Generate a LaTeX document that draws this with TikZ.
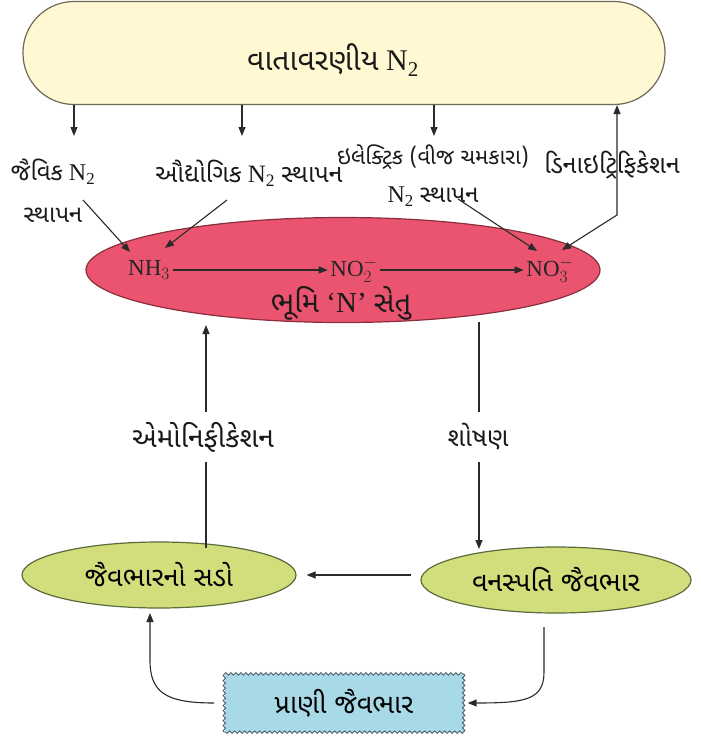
\documentclass[tikz,border=0pt]{standalone}
\usepackage{fontspec}
\setmainfont{Liberation Serif}
\newfontfamily\gujfont[Script=Gujarati]{Noto Sans Gujarati UI}
\usetikzlibrary{shapes.geometric,arrows.meta,decorations.pathmorphing,calc}
\definecolor{atmfill}{HTML}{FFF8D2}
\definecolor{atmdraw}{HTML}{6E6A5A}
\definecolor{soilfill}{HTML}{EA5470}
\definecolor{soildraw}{HTML}{8A2E3C}
\definecolor{grnfill}{HTML}{D2DE7C}
\definecolor{grndraw}{HTML}{5C6B3C}
\definecolor{bluefill}{HTML}{A8D9E7}
\definecolor{bluedraw}{HTML}{4E5E6C}
\definecolor{linecol}{HTML}{2A2A2A}
\newcommand{\gj}[1]{{\gujfont #1}}
\begin{document}
\begin{tikzpicture}[x=1pt,y=-1pt,
  txt/.style={font=\fontsize{24}{28}\selectfont, inner sep=1pt, text=black!90},
  chem/.style={font=\fontsize{23}{26}\selectfont, inner sep=1.5pt, text=black!85},
  conn/.style={draw=linecol, line width=1.1pt},
  arr/.style={conn, -{Triangle[length=9pt,width=7pt]}},
  biarr/.style={conn, {Triangle[length=9pt,width=7pt]}-{Triangle[length=9pt,width=7pt]}},
  wavy/.style={draw=bluedraw, line width=0.9pt, decorate,
    decoration={snake, amplitude=1.2pt, segment length=5pt}},
  grnell/.style={ellipse, draw=grndraw, fill=grnfill, line width=1.2pt, inner sep=0pt,
    minimum height=66pt, font=\fontsize{27}{30}\selectfont}]
\useasboundingbox (0,0) rectangle (701,740);

% atmosphere box
\node[draw=atmdraw, fill=atmfill, line width=1.2pt, rounded corners=51pt,
  minimum width=642pt, minimum height=103pt, inner sep=0pt] (atm) at (344,53) {};
\node[txt, font=\fontsize{30}{34}\selectfont] (atmtxt) at (333,60) {\gj{વાતાવરણીય} N\textsubscript{2}};

% labels
\node[txt] (bio) at (53,172) {\gj{જૈવિક} N\textsubscript{2}};
\node[txt] (bio2) at (53,215) {\gj{સ્થાપન}};
\node[txt, font=\fontsize{25}{29}\selectfont] (ind) at (249,173) {\gj{ઔદ્યોગિક} N\textsubscript{2} \gj{સ્થાપન}};
\node[txt, font=\fontsize{22}{26}\selectfont] (elec) at (433,157) {\gj{ઇલેક્ટ્રિક (વીજ ચમકારા)}};
\node[txt] (elec2) at (433,197) {N\textsubscript{2} \gj{સ્થાપન}};
\node[txt, font=\fontsize{25}{29}\selectfont] (denit) at (612,165) {\gj{ડિનાઇટ્રિફિકેશન}};

\coordinate (a1) at (74,136);
\coordinate (a2) at (242,136);
\coordinate (a3) at (434,136);
\draw[arr] (atm.south -| a1) -- (a1);
\draw[arr] (atm.south -| a2) -- (a2);
\draw[arr] (atm.south -| a3) -- (a3);

% soil ellipse
\node[ellipse, draw=soildraw, fill=soilfill, line width=1.2pt, inner sep=0pt,
  minimum width=514pt, minimum height=105pt] (soil) at (343,270) {};
\node[chem] (nh3) at (149,270) {NH$_3$};
\node[chem] (no2) at (354,270) {NO$_2^-$};
\node[chem] (no3) at (550,270) {NO$_3^-$};
\node[txt, font=\fontsize{29}{32}\selectfont] (soillbl) at (341,303) {\gj{ભૂમિ} ‘N’ \gj{સેતુ}};
\draw[arr, shorten <=1pt, shorten >=1pt] (nh3) -- (no2);
\draw[arr, shorten <=1pt, shorten >=1pt] (no2) -- (no3);

% fixation connectors
\coordinate (b0) at (83,200);
\coordinate (b1) at (130,252);
\coordinate (i0) at (227,200);
\coordinate (i1) at (165,248);
\coordinate (e0) at (458,199);
\coordinate (e1) at (537,251);
\coordinate (d0) at (617,215);
\coordinate (d1) at (562,250);
\draw[arr] (b0) -- (b1);
\draw[arr] (i0) -- (i1);
\draw[arr] (e0) -- (e1);
\draw[biarr] (atm.south -| d0) -- (d0) -- (d1);

% bottom ellipses
\node[grnell, minimum width=274pt] (decay) at (159,575) {\gj{જૈવભારનો સડો}};
\node[grnell, minimum width=270pt] (plant) at (556,580) {\gj{વનસ્પતિ જૈવભાર}};
\draw[arr, shorten <=9pt, shorten >=10pt] (plant.west |- decay.east) -- (decay.east);

% ammonification / absorption
\coordinate (am1) at (206,548);
\coordinate (am2) at (206,325);
\node[txt, font=\fontsize{28}{32}\selectfont, minimum height=50pt] (amlbl) at (203,437) {\gj{એમોનિફીકેશન}};
\draw[conn] (am1) -- (amlbl.south -| am1);
\draw[arr] (amlbl.north -| am1) -- (am2);
\coordinate (sh1) at (479,322);
\coordinate (sh2) at (479,549);
\node[txt, font=\fontsize{26}{30}\selectfont, minimum height=50pt] (shlbl) at (478,437) {\gj{શોષણ}};
\draw[conn] (sh1) -- (shlbl.north -| sh1);
\draw[arr] (shlbl.south -| sh1) -- (sh2);

% animal biomass
\node[fill=bluefill, minimum width=239pt, minimum height=58pt, inner sep=0pt,
  font=\fontsize{27}{30}\selectfont] (animal) at (344,703) {\gj{પ્રાણી જૈવભાર}};
\draw[wavy] (animal.north west) -- (animal.north east);
\draw[wavy] (animal.north east) -- (animal.south east);
\draw[wavy] (animal.south east) -- (animal.south west);
\draw[wavy] (animal.south west) -- (animal.north west);
\coordinate (p1) at (544,627);
\coordinate (p2) at (544,672);
\draw[arr, shorten >=4pt] (p1) -- (p2) .. controls (544,700) and (525,703) .. (animal.east);
\coordinate (an1) at (214,703);
\coordinate (dc1) at (150,613);
\draw[arr] (an1) .. controls (165,703) and (150,692) .. (150,660) -- (dc1);
\end{tikzpicture}
\end{document}
